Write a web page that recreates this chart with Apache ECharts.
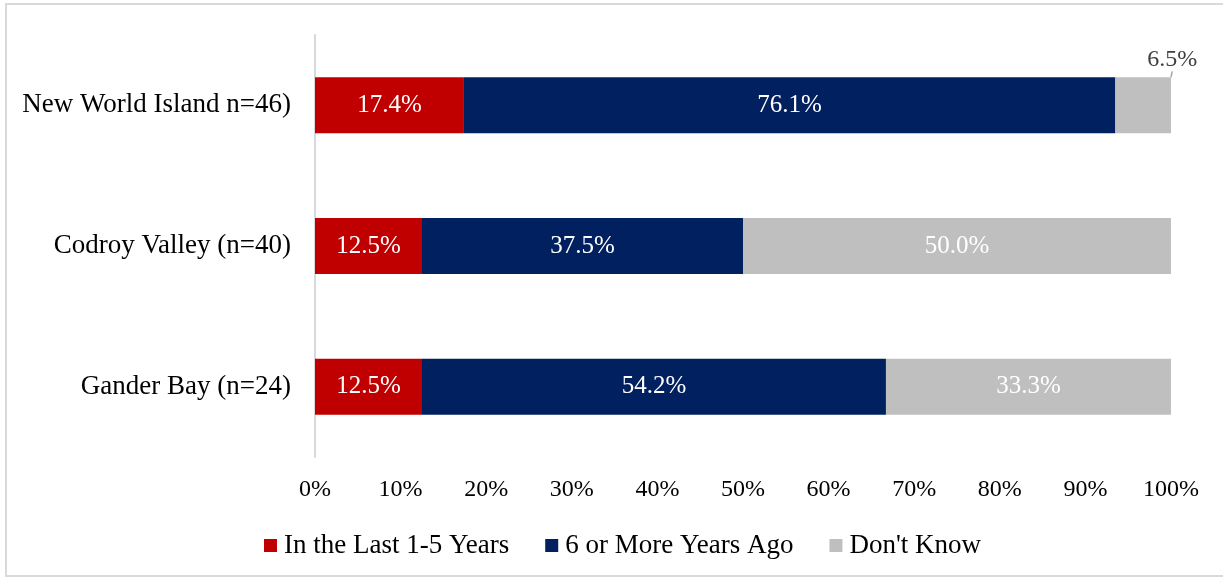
<!DOCTYPE html>
<html>
<head>
<meta charset="utf-8">
<style>
  html, body { margin: 0; padding: 0; background: #fff; }
  #chart { width: 1223px; height: 580px; }
</style>
<script src="https://cdn.jsdelivr.net/npm/echarts@6/dist/echarts.min.js"></script>
</head>
<body>
<div id="chart"></div>
<script>
// data
var categories = ['New World Island n=46)', 'Codroy Valley (n=40)', 'Gander Bay (n=24)'];
var seriesNames = ['In the Last 1-5 Years', '6 or More Years Ago', "Don't Know"];
var recent = [17.4, 12.5, 12.5];
var older = [76.1, 37.5, 54.2];
var dontKnow = [6.5, 50.0, 33.3];
var xTicks = [0, 10, 20, 30, 40, 50, 60, 70, 80, 90, 100];

var colors = ['#C00000', '#002060', '#BFBFBF'];
var font = '"Liberation Serif", "Times New Roman", serif';

var chart = echarts.init(document.getElementById('chart'));

function pct(p) {
  return p.value.toFixed(1) + '%';
}

function barSeries(name, values, color) {
  return {
    name: name,
    type: 'bar',
    stack: 'total',
    barWidth: 56,
    itemStyle: { color: color },
    label: {
      show: true,
      position: 'inside',
      color: '#fff',
      fontFamily: font,
      fontSize: 25,
      formatter: pct
    },
    data: values
  };
}

var s3 = barSeries(seriesNames[2], dontKnow, colors[2]);
// the small 6.5% slice gets its label outside with a leader line
s3.data = dontKnow.map(function (v) {
  if (v < 10) {
    return {
      value: v,
      label: { position: 'top', color: '#404040', distance: 6, fontSize: 24 },
      labelLine: { show: true, lineStyle: { color: '#A6A6A6', width: 1.5 } }
    };
  }
  return v;
});
s3.labelLayout = function (params) {
  if (params.dataIndex === 0) {
    return { dx: 29, dy: 0 };
  }
};

chart.setOption({
  animation: false,
  textStyle: { fontFamily: font },
  grid: { left: 315, right: 52, top: 35, bottom: 123 },
  graphic: [{
    type: 'rect',
    shape: { x: 6, y: 4, width: 1230, height: 572 },
    style: { fill: 'none', stroke: '#D9D9D9', lineWidth: 2 }
  }],
  legend: {
    data: seriesNames,
    left: 259,
    top: 527,
    icon: 'rect',
    itemWidth: 13,
    itemHeight: 13,
    itemGap: 36,
    textStyle: { fontFamily: font, fontSize: 27, color: '#000', padding: [0, 0, 0, 2] }
  },
  xAxis: {
    type: 'value',
    min: xTicks[0],
    max: xTicks[xTicks.length - 1],
    interval: 10,
    axisLine: { show: false },
    axisTick: { show: false },
    splitLine: { show: false },
    axisLabel: {
      formatter: '{value}%',
      fontFamily: font,
      fontSize: 24,
      color: '#000',
      margin: 21
    }
  },
  yAxis: {
    type: 'category',
    inverse: true,
    data: categories,
    axisTick: { show: false },
    axisLine: { lineStyle: { color: '#D9D9D9', width: 2 } },
    axisLabel: {
      fontFamily: font,
      fontSize: 27,
      color: '#000',
      margin: 24
    }
  },
  series: [
    barSeries(seriesNames[0], recent, colors[0]),
    barSeries(seriesNames[1], older, colors[1]),
    s3
  ]
});
</script>
</body>
</html>
